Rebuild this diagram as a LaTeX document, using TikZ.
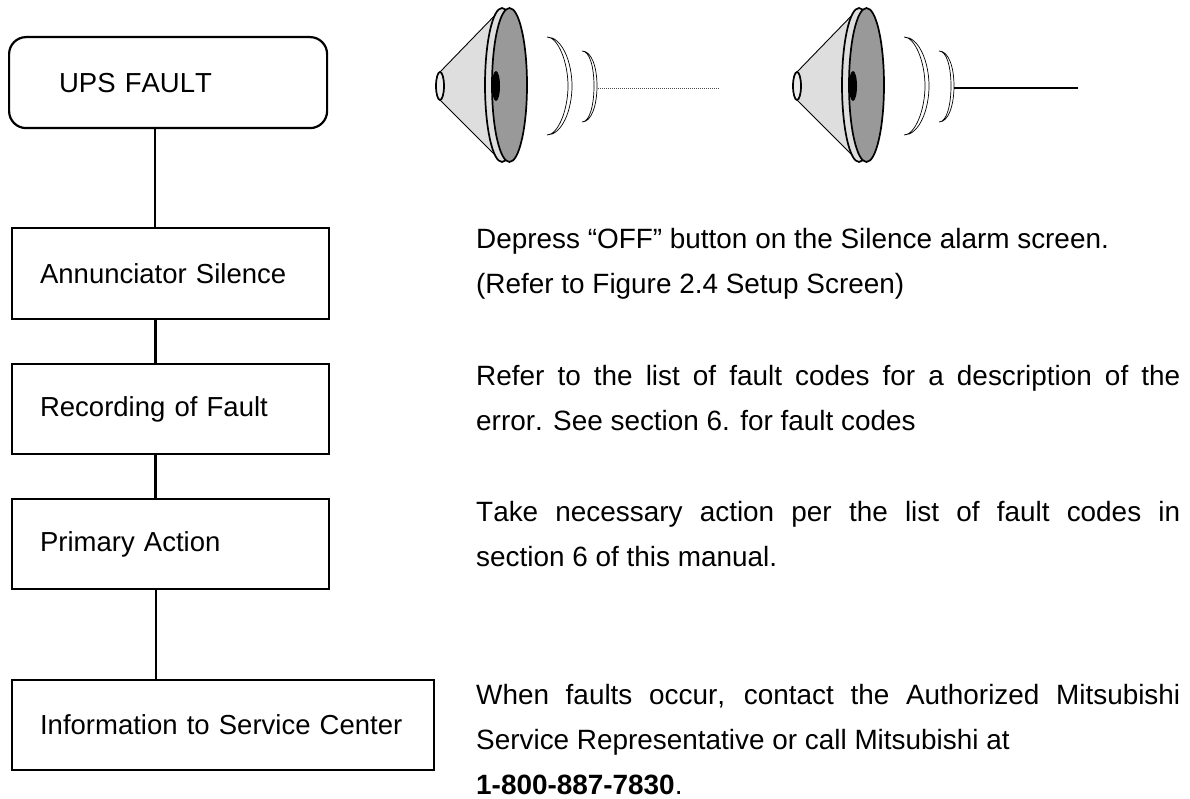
\documentclass[tikz,border=0pt]{standalone}
\usepackage{fontspec}
\setmainfont[Kerning=Off]{Liberation Sans}
\usetikzlibrary{positioning}
\tikzset{
  x=1pt,y=-1pt,
  txt/.style={font=\fontsize{27.5}{35}\selectfont},
  stepbox/.style={draw,line width=2.2pt,anchor=north west,inner sep=0pt,inner xsep=28pt,txt,align=left},
  link/.style={line width=2.2pt},
  note/.style={anchor=north west,inner sep=0pt,text width=704pt,align=justify,font=\fontsize{27.9}{45}\selectfont},
  rim/.style={line width=1.7pt},
  wave/.style={line width=0.7pt,fill=white},
}
\newcommand{\speaker}[1]{%
\begin{scope}[xshift=#1pt]
  \fill[black!13] (440,72) -- (502,8) -- (502,162) -- (440,100) -- cycle;
  \draw[line width=0.9pt] (440,72) -- (502,8) (440,100) -- (502,162);
  \draw[rim,fill=black!13] (502,85) ellipse [x radius=17,y radius=77];
  \draw[rim,fill=black!40] (509.5,85) ellipse [x radius=17.5,y radius=77];
  \fill[black] (496,86) ellipse [x radius=4,y radius=15];
  \draw[rim,fill=black!8] (440,86) ellipse [x radius=4,y radius=14];
  \draw[wave] (547,37) .. controls (558,37) and (568,62) .. (568,86) .. controls (568,110) and (558,135) .. (547,135)
     .. controls (562,135) and (572,110) .. (572,86) .. controls (572,62) and (562,37) .. (547,37) -- cycle;
  \draw[wave] (582,51) .. controls (590,51) and (594,68) .. (594,86) .. controls (594,104) and (590,122) .. (582,122)
     .. controls (592,122) and (597,104) .. (597,86) .. controls (597,68) and (592,51) .. (582,51) -- cycle;
\end{scope}}
\begin{document}
\begin{tikzpicture}
\useasboundingbox (0,0) rectangle (1190,799);
\node[stepbox,rounded corners=17pt,minimum width=318pt,minimum height=91pt,text width=262pt] (fault) at (8,36) {\hspace*{22pt}UPS FAULT};
\node[stepbox,minimum width=317pt,minimum height=91pt,text width=261pt] (sil) at (11,227) {Annunciator Silence};
\node[stepbox,minimum width=317pt,minimum height=90pt,text width=261pt] (rec) at (11,363) {Recording of Fault};
\node[stepbox,minimum width=317pt,minimum height=90pt,text width=261pt] (act) at (11,498) {Primary Action};
\node[stepbox,minimum width=422pt,minimum height=90pt,text width=366pt] (inf) at (11,679) {Information to Service Center};
\coordinate (f1) at (155,127);
\draw[link] (f1) -- (f1 |- sil.north);
\draw[link] (155.5,318) coordinate (s1) -- (s1 |- rec.north);
\draw[link] (155.5,453) coordinate (r1) -- (r1 |- act.north);
\draw[link] (156,588) coordinate (a1) -- (a1 |- inf.north);

\speaker{0}
\speaker{357}
\coordinate (d1) at (598,88); \coordinate (d2) at (720,88);
\draw[line width=0.8pt,black!70,dash pattern=on 1pt off 1pt] (d1) -- (d2);
\coordinate (l1) at (954,88); \coordinate (l2) at (1078,88);
\draw[line width=1.8pt] (l1) -- (l2);

\node[note] (n1) at (476,228) {Depress “OFF” button on the Silence alarm screen.\\(Refer to Figure 2.4 Setup Screen)};
\node[note] (n2) at (476,365) {Refer to the list of fault codes for a description of the\linebreak error. See section 6. for fault codes};
\node[note] (n3) at (476,501) {Take necessary action per the list of fault codes in\linebreak section 6 of this manual.};
\node[note] (n4) at (476,684) {When faults occur, contact the Authorized Mitsubishi\linebreak Service Representative or call Mitsubishi at\\\textbf{1-800-887-7830}.};
\end{tikzpicture}
\end{document}
